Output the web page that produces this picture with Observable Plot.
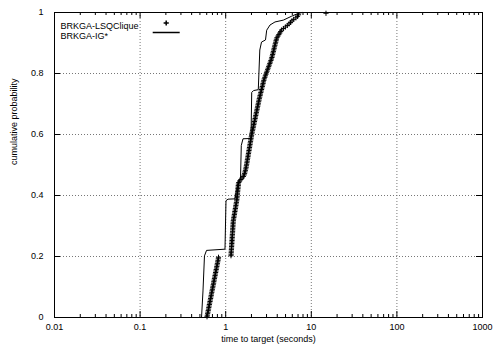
<!DOCTYPE html>
<html>
<head>
<meta charset="utf-8">
<script src="https://cdn.jsdelivr.net/npm/d3@7"></script>
<script src="https://cdn.jsdelivr.net/npm/@observablehq/plot@0.6"></script>
<style>
  body { margin: 0; background: #fff; }
  #chart svg { display: block; }
</style>
</head>
<body>
<div id="chart"></div>
<script>
// Sorted times to target (seconds) of the 200 BRKGA-LSQClique runs.
const lsqTimes = [
  0.605, 0.610, 0.615, 0.620, 0.625, 0.630, 0.635, 0.640, 0.645, 0.650,
  0.656, 0.661, 0.666, 0.672, 0.677, 0.682, 0.688, 0.693, 0.699, 0.705,
  0.710, 0.716, 0.722, 0.727, 0.733, 0.739, 0.745, 0.751, 0.757, 0.763,
  0.769, 0.775, 0.782, 0.788, 0.794, 0.800, 0.807, 0.813, 0.820, 0.824,
  1.153, 1.156, 1.159, 1.163, 1.166, 1.169, 1.172, 1.175, 1.178, 1.181,
  1.185, 1.188, 1.191, 1.194, 1.197, 1.201, 1.204, 1.207, 1.210, 1.214,
  1.217, 1.220, 1.224, 1.228, 1.236, 1.245, 1.254, 1.263, 1.271, 1.280,
  1.289, 1.298, 1.307, 1.316, 1.325, 1.335, 1.344, 1.350, 1.356, 1.361,
  1.367, 1.373, 1.379, 1.385, 1.391, 1.396, 1.402, 1.408, 1.421, 1.454,
  1.505, 1.555, 1.610, 1.645, 1.663, 1.681, 1.699, 1.717, 1.733, 1.745,
  1.757, 1.770, 1.782, 1.794, 1.807, 1.820, 1.832, 1.845, 1.858, 1.871,
  1.884, 1.897, 1.910, 1.924, 1.937, 1.950, 1.964, 1.978, 1.992, 2.006,
  2.021, 2.039, 2.057, 2.075, 2.093, 2.112, 2.130, 2.149, 2.168, 2.187,
  2.206, 2.226, 2.245, 2.265, 2.284, 2.305, 2.325, 2.345, 2.366, 2.387,
  2.407, 2.429, 2.450, 2.472, 2.495, 2.520, 2.546, 2.571, 2.598, 2.624,
  2.651, 2.677, 2.705, 2.732, 2.760, 2.788, 2.823, 2.865, 2.908, 2.951,
  2.995, 3.040, 3.085, 3.131, 3.178, 3.225, 3.274, 3.322, 3.372, 3.422,
  3.465, 3.499, 3.535, 3.572, 3.609, 3.646, 3.682, 3.720, 3.758, 3.797,
  3.836, 3.875, 3.914, 3.973, 4.073, 4.175, 4.281, 4.388, 4.499, 4.726,
  4.980, 5.248, 5.493, 5.715, 5.946, 6.223, 6.607, 6.899, 7.087, 14.85
];

// BRKGA-IG* empirical distribution, drawn as a line.
const igTimes = [
  0.522, 0.543, 0.565, 0.597, 0.981, 1.008, 1.064, 1.284, 1.337, 1.404,
  1.489, 1.521, 1.593, 1.975, 2.013, 2.113, 2.403, 2.503, 2.620, 2.917,
  3.013, 3.293, 3.766, 4.710, 5.902, 6.752, 7.788
];
const igProbs = [
  0.000, 0.087, 0.202, 0.220, 0.224, 0.383, 0.388, 0.389, 0.416, 0.446,
  0.456, 0.564, 0.586, 0.587, 0.738, 0.744, 0.747, 0.877, 0.903, 0.910,
  0.942, 0.959, 0.969, 0.975, 0.988, 0.995, 1.000
];

const seriesNames = ["BRKGA-LSQClique", "BRKGA-IG*"];
const xTicks = [0.01, 0.1, 1, 10, 100, 1000];
const yTicks = [0, 0.2, 0.4, 0.6, 0.8, 1];
const xGrid = [0.1, 1, 10, 100];
const yGrid = [0.2, 0.4, 0.6, 0.8];
const xTitle = "time to target (seconds)";
const yTitle = "cumulative probability";

// Plotting position of the i-th fastest run: (i - 1/2) / n.
const lsq = lsqTimes.map((t, i) => ({time: t, prob: (i + 0.5) / lsqTimes.length}));
const ig = igTimes.map((t, i) => ({time: t, prob: igProbs[i]}));

const W = 496, H = 352;
const mL = 54, mR = 14, mT = 12, mB = 35;
const innerW = W - mL - mR, innerH = H - mT - mB;
const majorLen = 6, minorLen = 3;

// minor ticks of the log axis: 2..9 within each decade
const minorX = d3.scaleLog().domain([0.01, 1000]).ticks()
  .filter(v => !xTicks.some(m => Math.abs(m - v) / m < 1e-9));

// horizontal segment used as the line sample in the key
const dashSymbol = {draw(ctx) { ctx.moveTo(-13.5, 0); ctx.lineTo(13.5, 0); }};

const font = "'Liberation Sans', Arial, Helvetica, sans-serif";

const chart = Plot.plot({
  width: W, height: H,
  marginLeft: mL, marginRight: mR, marginTop: mT, marginBottom: mB,
  style: {fontFamily: font, fontSize: "9px", background: "#fff", color: "#000"},
  x: {type: "log", domain: [0.01, 1000]},
  y: {domain: [0, 1]},
  marks: [
    // dotted grid
    Plot.ruleX(xGrid, {stroke: "#777", strokeWidth: 1, strokeDasharray: "1,2"}),
    Plot.ruleY(yGrid, {stroke: "#777", strokeWidth: 1, strokeDasharray: "1,2"}),
    // inward ticks on all four sides
    Plot.tickX(xTicks, {x: d => d, insetTop: innerH - majorLen, stroke: "#000"}),
    Plot.tickX(xTicks, {x: d => d, insetBottom: innerH - majorLen, stroke: "#000"}),
    Plot.tickX(minorX, {x: d => d, insetTop: innerH - minorLen, stroke: "#000"}),
    Plot.tickX(minorX, {x: d => d, insetBottom: innerH - minorLen, stroke: "#000"}),
    Plot.tickY(yTicks, {y: d => d, insetRight: innerW - majorLen, stroke: "#000"}),
    Plot.tickY(yTicks, {y: d => d, insetLeft: innerW - majorLen, stroke: "#000"}),
    // tick labels
    Plot.axisX(xTicks, {tickSize: 0, tickPadding: 6, tickFormat: d => String(d), label: null, fontSize: 9}),
    Plot.axisY(yTicks, {tickSize: 0, tickPadding: 11, tickFormat: d => String(d), label: null, fontSize: 9}),
    // axis titles
    Plot.text([xTitle], {frameAnchor: "bottom", dy: 24, fontSize: 9}),
    Plot.text([yTitle], {frameAnchor: "left", dx: -40, rotate: -90, fontSize: 9}),
    // data
    Plot.line(ig, {x: "time", y: "prob", stroke: "#000", strokeWidth: 1}),
    Plot.dot(lsq, {x: "time", y: "prob", symbol: "plus", r: 1.8, stroke: "#000", strokeWidth: 1}),
    // key
    Plot.text([seriesNames[0]], {frameAnchor: "top-left", dx: 6, dy: 10, textAnchor: "start", fontSize: 9}),
    Plot.text([seriesNames[1]], {frameAnchor: "top-left", dx: 6, dy: 20, textAnchor: "start", fontSize: 9}),
    Plot.dot([seriesNames[0]], {frameAnchor: "top-left", dx: 111.7, dy: 10.5, symbol: "plus", r: 1.8, stroke: "#000"}),
    Plot.dot([seriesNames[1]], {frameAnchor: "top-left", dx: 111.7, dy: 20, symbol: dashSymbol, stroke: "#000"}),
    Plot.frame({stroke: "#000", strokeWidth: 1})
  ]
});

document.getElementById("chart").append(chart);
</script>
</body>
</html>
